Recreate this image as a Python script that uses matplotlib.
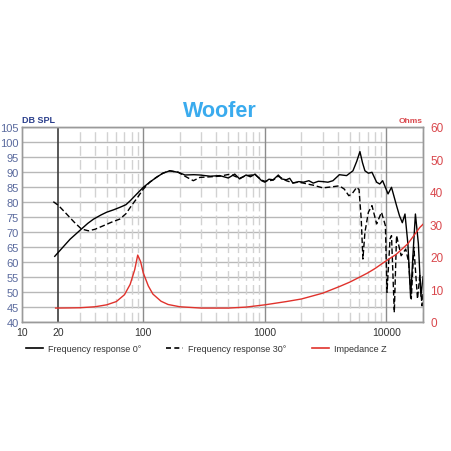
import matplotlib.pyplot as plt
from matplotlib.lines import Line2D

plt.rcParams['font.family'] = ['Liberation Sans', 'DejaVu Sans']

# 数据 - 频率响应和阻抗曲线
freq_0 = [18.7, 22, 25, 31, 35, 39, 45, 50, 57, 64, 72, 78, 88, 100, 113, 128, 145, 165, 194,
          220, 260, 292, 355, 425, 500, 565, 620, 700, 760, 830, 940, 1000, 1080, 1170, 1290,
          1370, 1500, 1600, 1700, 1900, 2080, 2300, 2500, 2750, 3000, 3300, 3630, 4100, 4700,
          5300, 5700, 6050, 6350, 6650, 7100, 7600, 8300, 8800, 9300, 10300, 11000, 12100,
          12800, 13500, 14200, 15000, 15800, 16500, 17300, 18300, 19200, 20000]
spl_0 = [61.8, 65, 67.5, 70.9, 72.8, 74.2, 75.6, 76.5, 77.3, 78.1, 79.0, 80.3, 82.5, 84.8, 86.5,
         88.1, 89.5, 90.3, 89.8, 88.9, 89.0, 88.9, 88.5, 88.7, 87.9, 89.2, 87.6, 88.9, 88.3, 89.2,
         87.0, 86.5, 87.5, 87.3, 88.9, 87.6, 87.3, 87.8, 86.2, 86.7, 86.5, 87.0, 86.2, 86.8, 86.7,
         86.5, 87.0, 89.0, 88.7, 90.3, 93.5, 96.7, 93.0, 90.3, 89.5, 89.8, 86.5, 85.9, 87.0, 82.6,
         84.8, 78.7, 75.3, 73.0, 75.9, 66.0, 48.0, 62.0, 75.9, 66.0, 48.5, 55.0]

freq_30 = [18.2, 20, 23.4, 27, 31, 35.4, 40, 47, 55, 64, 72, 80, 90, 100, 113, 128, 145, 165, 194,
           220, 258, 292, 355, 425, 520, 565, 620, 700, 830, 940, 1000, 1170, 1290, 1500, 1700,
           1900, 2080, 2300, 2500, 3000, 3630, 4100, 4500, 4900, 5200, 5700, 5950, 6200, 6400,
           6650, 7100, 7600, 8300, 9100, 9800, 10100, 10700, 11000, 11600, 12100, 13200, 14400,
           15200, 16000, 16800, 18000, 18800, 19600, 20000]
spl_30 = [80.0, 78.8, 75.9, 73.2, 70.9, 70.3, 70.8, 72.0, 73.2, 74.2, 76.0, 78.7, 81.5, 84.2,
          86.5, 88.1, 89.5, 90.3, 89.8, 88.5, 87.0, 88.1, 88.3, 88.5, 89.2, 88.5, 87.8, 88.7,
          89.0, 87.2, 86.8, 87.2, 88.5, 87.0, 86.3, 86.5, 86.2, 85.8, 85.5, 84.6, 85.0, 85.3,
          84.2, 82.0, 82.6, 84.8, 84.0, 74.2, 60.9, 69.8, 76.5, 78.7, 72.6, 76.5, 72.0, 49.8,
          67.6, 68.7, 43.1, 68.7, 62.0, 64.2, 60.0, 47.6, 64.8, 47.6, 55.4, 45.3, 50.0]

freq_z = [19, 25, 30, 40, 50, 60, 70, 78, 85, 90, 95, 100, 110, 120, 140, 160, 200, 300, 500,
          700, 1000, 1500, 2000, 3000, 4150, 5000, 6000, 7000, 8000, 10000, 12000, 15000,
          18800, 20000]
imp_z = [4.2, 4.25, 4.3, 4.6, 5.2, 6.2, 8.3, 11.5, 16.0, 20.5, 18.5, 15.0, 11.0, 8.5, 6.3, 5.3,
         4.6, 4.2, 4.2, 4.5, 5.2, 6.2, 7.0, 8.8, 10.9, 12.2, 13.7, 15.0, 16.3, 18.8, 20.7, 24.0,
         29.0, 30.0]

x_ticks = [10, 20, 100, 1000, 10000]
y_ticks = list(range(40, 106, 5))
z_ticks = list(range(0, 61, 10))

fig = plt.figure(figsize=(4.52, 4.52), dpi=100)
ax = fig.add_axes([0.048, 0.286, 0.888, 0.4315])
ax2 = ax.twinx()

ax.set_xscale('log')
ax.set_xlim(10, 20000)
ax.set_ylim(40, 105)
ax2.set_ylim(0, 60)

# 网格线
for y in y_ticks:
    ax.axhline(y, color='#b8b8b8', lw=1.0, zorder=0)
minor = [m * d for d in (10, 100, 1000) for m in range(2, 10)] + [20000]
for f in minor:
    if f == 20:
        continue
    ax.axvline(f, color='#d2d2d2', lw=1.0, linestyle=(0, (7, 3)), zorder=0)
for f in (100, 1000, 10000):
    ax.axvline(f, color='#8c8c8c', lw=1.0, zorder=0)
ax.axvline(20, color='#3c3c3c', lw=1.2, zorder=0)

ax.plot(freq_0, spl_0, color='black', lw=1.0, zorder=3)
ax.plot(freq_30, spl_30, color='black', lw=1.0, linestyle=(0, (4, 2)), zorder=3)
ax2.plot(freq_z, imp_z, color='#e0322c', lw=1.0, zorder=3)

ax.set_xticks(x_ticks)
ax.set_xticklabels([str(t) for t in x_ticks])
ax.xaxis.set_minor_locator(plt.NullLocator())
ax.set_yticks(y_ticks)
ax2.set_yticks(z_ticks)
ax.tick_params(axis='x', length=0, labelsize=7.5, colors='#333333', pad=4)
ax.tick_params(axis='y', length=0, labelsize=8, colors='#5a6a9e', pad=2)
ax2.tick_params(axis='y', length=0, labelsize=8.5, colors='#d9474c', pad=5)

for a in (ax, ax2):
    for s in a.spines.values():
        s.set_color('#9a9a9a')
        s.set_linewidth(1.0)

fig.text(0.487, 0.754, 'Woofer', color='#3aabee', fontsize=15.5, fontweight='bold',
         ha='center', va='center')
fig.text(0.048, 0.733, 'DB SPL', color='#2b3f8c', fontsize=6.5, fontweight='bold',
         ha='left', va='center')
fig.text(0.936, 0.731, 'Ohms', color='#d9474c', fontsize=6, fontweight='bold',
         ha='right', va='center')

handles = [Line2D([], [], color='black', lw=1.2),
           Line2D([], [], color='black', lw=1.2, linestyle=(0, (3, 2))),
           Line2D([], [], color='#e0322c', lw=1.2)]
labels = ['Frequency response 0°', 'Frequency response 30°', 'Impedance Z']
fig.legend(handles, labels, loc='center', bbox_to_anchor=(0.456, 0.226), ncol=3,
           frameon=False, fontsize=6.5, handlelength=1.9, handletextpad=0.55,
           columnspacing=2.8, labelcolor='#333333')

plt.savefig('out.png', dpi=100)
